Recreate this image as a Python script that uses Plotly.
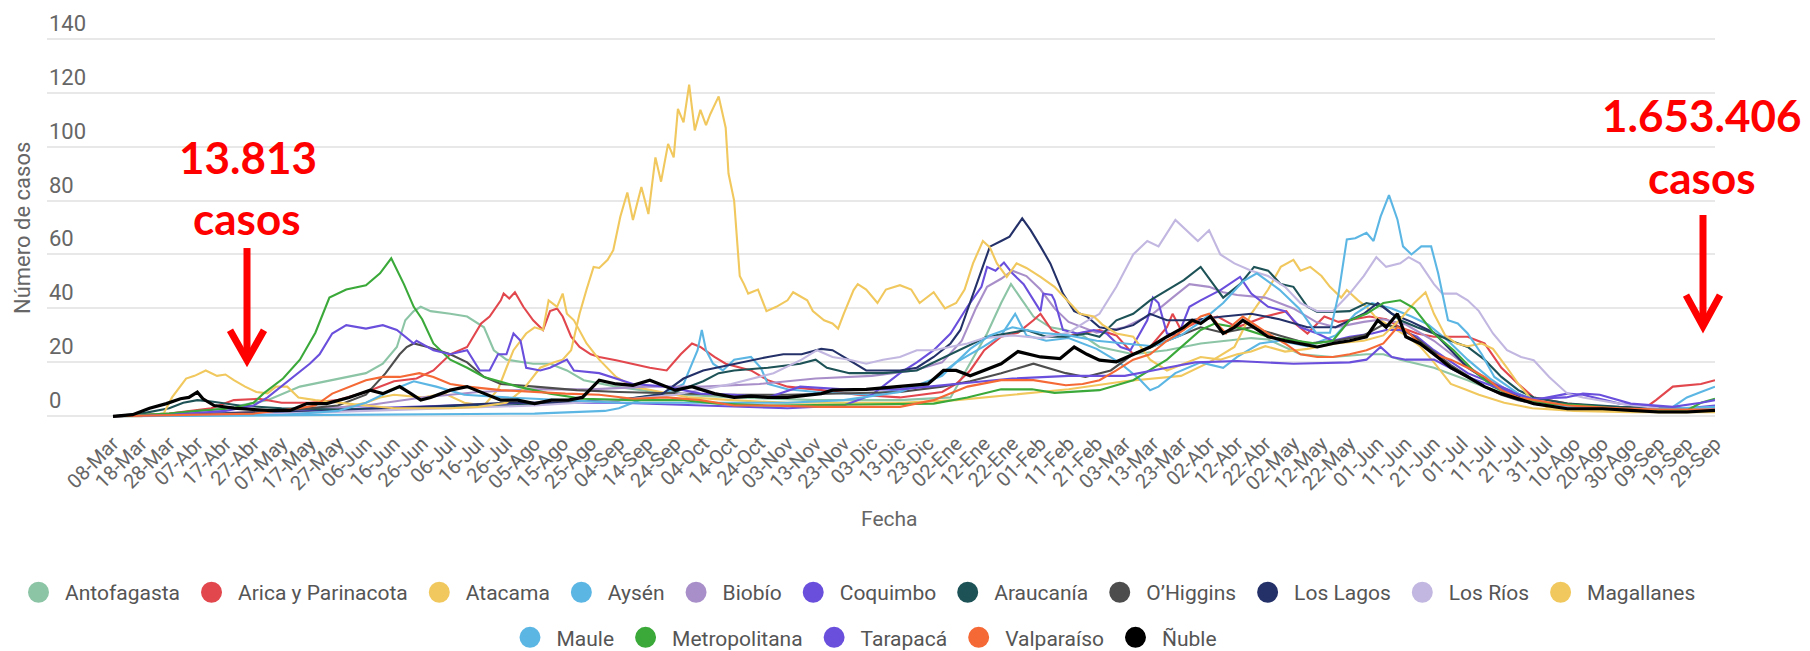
import pandas as pd
import plotly.graph_objects as go

START = pd.Timestamp("2020-03-08")
END = pd.Timestamp("2021-09-29")
MESES = ["Ene", "Feb", "Mar", "Abr", "May", "Jun", "Jul", "Ago", "Sep", "Oct", "Nov", "Dic"]

# (día desde 08-Mar-2020, valor)
ANTOFAGASTA = [(0,0),(20,1),(40,3),(55,6),(66.5,11),(78,13.4),(90,16),(96,19.5),(101,25.7),(104,35.6),(107,39),(109.5,40.6),(113,39),(120,38),(126,37),(132,33),(135.5,24.5),(140,21),(149.5,19.5),(155.5,19.5),(161.5,17),(167.5,13.4),(179,11),(197,8.4),(220,7),(250,6),(280,6),(298,7),(304,18),(311,30.7),(316,42),(319.5,49),(323.5,43),(327.5,37),(333.5,33),(339,32),(345,30),(351,25.7),(363,23),(375,24.5),(387,27),(395,28),(405,29),(411,28.5),(417,25.7),(422.5,23),(434,22),(446,23),(452,23),(458,21),(470,18),(482,13.4),(494,8.4),(505.5,4.7),(520,3),(540,2.5),(570,2.5)]
ARICA = [(0,0),(20,1),(35,3),(43,6),(52,6.5),(60,5),(70,5),(80,6),(90,9),(100,13),(108,14),(114,17),(120,23),(126,25.7),(131,34.4),(134,37),(138,43),(139,45.5),(141,43.7),(143,46),(146,40.6),(149.5,35.6),(153,32),(155.5,39),(158,40),(160,37),(163,29.5),(166,25.7),(170,23),(173,22),(179,20.8),(185,19.5),(191,18),(197,17),(202,23),(206,27),(209,25.7),(214,22),(218,19.5),(227,17),(233,13.4),(240,11),(252,9.7),(265,8),(280,7),(295,9),(300,12),(305,17),(310,24.5),(316,29.5),(322,31),(327.5,35.6),(330,38),(334,32),(339,29.5),(345,31),(351,32),(357,30),(363,23),(369,25.7),(375,33),(377,38),(380,32),(387,35.6),(393,37),(400,33),(410,37),(417.5,39),(421,34),(425,30.7),(431,37),(436,35),(442,36),(447,37),(453,36),(458,33),(464,30.7),(470,29.5),(476,29.5),(482,29.5),(488,27),(494,18),(500,12),(505.5,7),(517.5,4.7),(530,3.5),(545,3),(549,6),(555,11),(560,11.5),(565,12),(570,13.4)]
ATACAMA = [(0,0),(20,0.5),(40,1),(60,2),(80,3),(90,5),(95,7),(100,8),(110,7),(118,8.4),(125,5),(132,4),(137,10),(140,18),(142.5,24.5),(147,30.7),(150,33),(153,32),(155,43),(158,40.6),(160,45.5),(161.5,38),(164,35.6),(168.5,27),(173,21),(179,14.6),(185,11),(195,9),(205,7),(220,6),(240,5),(260,5),(280,5),(300,6),(320,8),(340,10),(360,13),(380,15),(390,20),(399,25.7),(405,38),(411,47),(415.5,55.4),(420,58),(422.5,54),(426,55.4),(430,52),(433,48),(437,44),(439,46.8),(443,43),(446,40.6),(449,37),(455,33),(460,30),(465,26),(470,20),(476,12),(481,10),(486,8),(495,5),(505,3),(520,2),(540,1.5),(570,1.5)]
AYSEN = [(0,0),(50,0.3),(100,0.5),(150,1),(175,2),(180,3),(187.5,6),(195,8),(203,12),(208,24.5),(209.5,32),(211,24.5),(213.5,19.5),(217,17),(221,21),(227,22),(230.5,18),(233,12),(240,10),(250,9),(270,8),(290,12),(300,20),(310,26),(316,30),(321,38),(325,30),(332,28),(340,29),(350,25),(358,20),(365,14),(369,9.7),(372,11),(378,16),(387,20),(395,18),(400,22),(408,27),(415,28),(425,26),(435,30),(442,38),(448,42),(455,40),(462,37),(468,34),(475,28),(482,21),(490,14),(497,9),(505,5),(520,3.5),(540,3),(555,3.5),(560,7),(565,9),(570,11)]
BIOBIO = [(0,0),(30,1),(60,2),(90,4),(110,7),(130,9),(150,10),(170,10),(190,11),(210,11),(230,12),(250,14),(270,15),(285,17),(295,20),(302,28),(307,40),(311,48),(316,51),(320,54),(325,52),(330,47),(335,40),(340,35),(350,31),(360,33),(370,38),(377,44),(383,49),(390,48),(395,46),(400,45),(410,44),(420,40),(428,35),(435,33),(445,35),(452,36),(460,34),(470,28),(480,20),(490,13),(500,8),(510,5),(525,4),(545,3),(570,3)]
COQUIMBO = [(0,0),(30,0.5),(60,1.5),(90,3),(120,4),(150,5),(180,5),(210,4),(240,3),(260,4),(270,8),(280,16),(286,20),(292,24.5),(298,30.7),(304,40.6),(309,48),(311,55.4),(314,54),(317,57),(320,53),(324,49),(327.5,43),(330,39),(331,45.5),(334,45),(335,43),(338,32),(343,30.7),(349,32),(353.5,30.7),(358.5,25.7),(362,24.5),(368,35.6),(370,44),(372,42),(375,30.7),(379,30),(383,40.6),(387,43),(394,46.8),(401,51.7),(405,45.5),(411,40.6),(417,39),(422.5,33),(428.5,30.7),(434,28),(440,29.5),(448,30.7),(453,32),(458,32),(464,29.5),(470,24.5),(482,16),(494,11),(505.5,6),(517.5,8.4),(523,8),(536,4.7),(550,3.5),(560,3),(570,4)]
ARAUCANIA = [(0,0),(10,1),(20,3),(25,5),(30,6),(35,5.5),(45,4),(60,3),(80,2.5),(100,3),(120,3.5),(140,4),(160,5),(180,6),(200,9),(210,13),(215.5,16),(221,17),(233,18),(244.5,19.5),(250,21),(254,18),(262,16),(274,16),(286,17),(294,21),(304,25.7),(311,29.5),(318,30.7),(325,32),(332,29.5),(339,29.5),(346.5,30.7),(351,29.5),(357,35.6),(363,38),(369,43),(375,46.8),(381,50.5),(387,55.4),(392,48),(395,44),(401,49),(406,55.4),(411,54),(415.5,49),(420,48),(425,40.6),(428.5,38.7),(434,38.7),(440,39),(446,42),(452,40.6),(458,35.6),(464,33),(470,30.7),(476,28),(482,25.7),(488,21),(494,14.6),(500,9.7),(505.5,7),(517.5,4.7),(536,3.5),(550,3),(570,3)]
OHIGGINS = [(0,0),(20,0.5),(40,1),(60,2),(80,4),(90,8),(97,16),(102,23),(104.5,25.7),(107,27),(112,25.7),(120,23),(126,20),(132,14.6),(138,12),(150,11),(165,9.7),(180,9),(200,8.5),(220,8),(240,8),(260,8.5),(280,9),(295,11),(305,13),(316,16),(327.5,19.5),(339,16),(346,14.6),(355,17),(363,23),(375,28),(387,33),(395,31),(405,33),(415,30),(425,27),(435,28),(445,30),(452,34),(458,33),(465,28),(470,24),(476,19),(482,15),(488,11),(494,8),(500,6),(510,4),(520,3),(540,2.5),(570,2.5)]
LOS_LAGOS = [(0,0),(20,0.5),(40,1),(60,1.5),(80,2),(100,3),(120,4),(140,5),(160,5),(180,6),(195,8),(203,14),(210,17),(221,19.5),(233,22),(238.5,23),(245,23),(252,25),(256,24.5),(260,22),(268,17),(280,17),(286,18),(292,22),(298,27),(301.5,32),(306,45.5),(310,56.7),(312,62.9),(316,65),(319,66.6),(323.5,73.4),(326.5,69),(330,63),(333.5,56.7),(338,45.5),(342,39),(346.5,37),(351,33),(357,32),(363,33.8),(369,38),(375,35.6),(381,35.6),(387,36),(395,37),(405,38),(415,36),(425,33),(435,33),(445,38),(450,42),(455,38),(462,35),(470,31),(482,18),(494,10),(505.5,4.7),(517.5,3),(530,2.5),(545,2),(560,2),(570,2.5)]
LOS_RIOS = [(0,0),(30,0.5),(60,1),(90,2),(120,3),(150,4),(180,6),(200,8),(220,12),(235,16),(245,21),(250.5,24.5),(256,22),(262,21),(268,19.5),(274,21),(280,22),(286,24.5),(292,24.5),(298,25.7),(304,27),(310,29),(320,30),(330,29),(340,31),(346,35),(351,38),(357,48),(363,60),(368,65),(372,63),(378,72.8),(382,69),(386,65),(390,69),(394,60),(399,56.7),(405,54),(411,52),(417,48),(422.5,42),(428.5,39),(434,39),(440,45.5),(445,52),(449.5,59),(453,55.4),(458,56.7),(461,59),(465,56.7),(470,49),(473,45.5),(478,45.5),(482,43),(486,39),(491,30.7),(496,24.5),(501,22),(505.5,20.8),(511,14.6),(517.5,8.4),(523,7),(536,4.7),(550,3),(560,2.5),(570,3)]
MAGALLANES = [(0,0),(10,0),(18,1),(21,7),(26,14),(29,15),(33,17),(37,15),(40,15.5),(43,13.4),(47,11),(51,9),(55,8.5),(58,11),(62,11),(66,7),(72,6),(80,5),(90,4),(100,3),(110,3),(120,3),(130,3.5),(140,5),(146,10),(152,18),(157,20),(160,21),(163,24.5),(166,38),(168.5,47),(171,55.4),(173,55),(176,58),(178,61.6),(180.5,74),(183,83),(185,72.8),(188,85),(190.5,75),(193,96),(195,87),(197.5,101),(199.5,96),(201,114),(203,109),(205,123),(207,106),(209,113.6),(211,108),(212.5,112),(215.5,118.6),(218,107),(219,90),(221,80),(223,52),(224.5,49),(226,45.5),(229.5,47),(232.5,39),(236,40.6),(240,43),(242,46),(247,43),(249,39),(253,35.6),(256,34.4),(258,32.5),(260,38),(263.5,46.8),(265,49),(268,47),(272,42),(275,47),(280,48.6),(284,47),(287,42),(292,46),(296,40),(300,42),(303,47),(306,56.7),(309.5,65),(312,62.6),(314.5,56.7),(318,51.7),(321.5,56.7),(325,55),(330,51.7),(335,48),(339.5,43),(344,38),(349,37),(352,34),(357,30.7),(363,29.5),(369,21),(375,17),(381,19.5),(387,22),(394,21),(400,23),(405,24),(410,26),(417,24),(425,25),(435,27),(445,28),(452,30),(458,36),(463,42),(467,46),(470,38),(474,30),(478,27),(482,26),(487,27),(491,25),(496,18),(500,12),(505,6),(510,3.5),(520,2.5),(530,2),(540,2),(550,1.5),(560,1.5),(570,2)]
MAULE = [(0,0),(30,0.3),(60,0.5),(80,2),(90,5),(100,10),(107,13),(115,11),(125,8),(140,7),(160,6),(180,5),(200,5),(220,5),(240,5),(260,6),(280,9),(295,15),(305,25),(312,30),(320,33),(330,31),(340,30),(350,28),(360,27),(370,26),(380,30),(387,35),(395,42),(402,50),(407,53),(415,47),(422,40),(428,31),(433,31),(436,45),(439,65.6),(442,66),(446,68),(448.5,65),(451,74),(454,82),(457,73),(459,63),(462,60),(465.5,63),(469,63),(471.5,53),(475,35.6),(478.5,34.4),(482,30.7),(487,23),(491.5,14.6),(500,8.4),(511,4),(525,3),(545,2.5),(560,3),(570,3.5)]
METROPOLITANA = [(0,0),(10,0.5),(20,1),(30,2),(43,3),(50,5),(53.5,8.4),(60.5,14),(66.5,21),(72,31),(77,44),(83,47),(90,48.6),(95,53),(99,58.6),(103.5,49),(107,40.6),(110,36),(114,27),(120,21),(126,18),(132,14.6),(144,11),(155.5,8.4),(167,6.5),(185,6),(203,6),(215,4.7),(233,4),(250,4.2),(270,4.5),(292,4.7),(304,7),(316,10),(327,10),(335,8.7),(351,9.7),(363,13.4),(375,21),(387,32),(392,34.4),(402,32.5),(411,29.5),(422,28),(428,27),(434,28),(440,35.6),(446,38),(452,42),(458,43),(463,40),(470,30.7),(477,24.5),(484,17),(491,11),(499,7),(511,4.7),(523,4),(536,2.8),(550,2.2),(560,2.2),(565,5),(570,6.5)]
TARAPACA = [(0,0),(20,0.5),(40,2),(50,4),(55,7),(64,14.6),(70,19.5),(73.5,23),(78,30.7),(83,33.8),(90,32.5),(96,33.8),(101,32),(107,27),(108,28),(114,24.5),(120,23),(126,24.5),(130.5,17),(134,17),(137,23),(140,23),(142.5,30.7),(145,28),(147,18),(152,17),(155.5,18),(161.5,21),(164,17),(173,16),(185,12),(197,11),(209,8.4),(221,8),(233,7),(244.5,11),(260,10),(280,10),(300,12),(320,14),(340,15),(360,15),(375,18),(385,20),(400,20.5),(420,19.5),(440,20),(446,21),(451,25.7),(455,22),(460,21),(470,21),(482,14.6),(494,10),(505,6.5),(517,7),(523,8.4),(529,8),(540,4.7),(555,3.5),(565,5),(570,6)]
VALPARAISO = [(0,0),(30,0.5),(50,1),(66,3),(72,4),(78,8.4),(90,13.4),(96,14.6),(102,14.6),(109,16),(114,14.6),(120,12),(126,11),(138,9.7),(150,9),(161,8.4),(173,8),(185,6.5),(197,7),(209,6),(221,4),(233,4),(252,3.5),(280,3.5),(292,6),(304,11),(316,13.4),(327.5,13.4),(339,11.5),(345,12),(351,13.4),(357,17),(363,21),(369,23),(375,28),(381,32),(387,37),(390,38),(394,33),(396,30.7),(399,34.4),(402,37),(411,30.7),(417,27),(422.5,23),(428.5,22),(434,22),(440,23),(446,24.5),(452,27),(457,33),(460,32),(465,27),(470,23),(476,21),(482,18),(488,14.6),(494,9.7),(500,7),(505.5,6),(517.5,4),(536,3),(550,2.5),(570,2.5)]
NUBLE = [(0,0),(7,0.6),(13,3),(19,4.7),(24,6.5),(27,7),(30,9),(32,6.5),(36,4),(43,3),(55,2.2),(63,2.2),(69,4.7),(76,4.7),(84,7),(91.5,9.7),(96,8.4),(102,11),(106,8.4),(109.5,6),(113,7),(120,9.7),(126,11),(132,8.4),(138,6),(144,6),(150,4.7),(156,6),(162,6),(167,7),(173,13.4),(179,12),(185,11.5),(191,13.4),(197,11),(200,9.7),(206,11),(214,8.4),(221,7),(227,7.5),(233,7),(240,7),(252,8.4),(256,9.7),(268,10),(280,11),(290,12),(295.5,17),(300,17),(305,15),(310,17),(316,19.5),(322,24),(326,23),(330,22),(337,21.4),(342,25.7),(346.5,23),(351,20.8),(357,20.2),(363,23),(369,25.7),(375,29.5),(381,33),(384,35.6),(387,34.4),(390.5,37),(395,30.7),(399,33),(402,35.6),(406,33),(411,29.5),(417,28),(422.5,27),(428.5,25.7),(434,27),(440,28),(446,29.5),(450,35.6),(453,33),(457,38),(460,29.5),(465,27),(470,23),(476,18),(482,14.6),(488,11),(494,8.4),(500,6.5),(505.5,4.7),(517.5,2.8),(530,2.8),(540,2.2),(550,1.6),(560,1.6),(570,2.2)]

NAMES = ["Antofagasta", "Arica y Parinacota", "Atacama", "Aysén", "Biobío", "Coquimbo",
         "Araucanía", "O’Higgins", "Los Lagos", "Los Ríos", "Magallanes",
         "Maule", "Metropolitana", "Tarapacá", "Valparaíso", "Ñuble"]
DATA = [ANTOFAGASTA, ARICA, ATACAMA, AYSEN, BIOBIO, COQUIMBO, ARAUCANIA, OHIGGINS,
        LOS_LAGOS, LOS_RIOS, MAGALLANES, MAULE, METROPOLITANA, TARAPACA, VALPARAISO, NUBLE]
COLORS = ["#8cc4a6", "#e1474d", "#f0c85e", "#5cb6e4", "#a98fc9", "#6a4fdc",
          "#1d5257", "#4d4d4d", "#243169", "#c2b7e0", "#f0c85e",
          "#5cb6e4", "#3aa93a", "#6a4fdc", "#f46935", "#000000"]

Y_TICKS = [0, 20, 40, 60, 80, 100, 120, 140]
Y_RANGE = [-1, 141]

W, H = 1810, 651
PX_PER_UNIT = (416 - 39) / 140.0
ML, MR = 47, 95
MT = 39 - (Y_RANGE[1] - 140) * PX_PER_UNIT
MB = H - (416 + (0 - Y_RANGE[0]) * PX_PER_UNIT)
PW, PH = W - ML - MR, H - MT - MB


def pxx(x):
    return (x - ML) / PW


def pxy(y):
    return (H - MB - y) / PH


fig = go.Figure()
for name, data, color in zip(NAMES, DATA, COLORS):
    xs = [START + pd.Timedelta(days=d) for d, _ in data]
    ys = [v for _, v in data]
    fig.add_trace(go.Scatter(
        x=xs, y=ys, mode="lines", name=name, legendgroup=name, showlegend=False,
        line=dict(color=color, width=3.2 if name == "Ñuble" else 2.1),
        hoverinfo="skip"))

for i, (name, color) in enumerate(zip(NAMES, COLORS)):
    fig.add_trace(go.Scatter(
        x=[None], y=[None], mode="markers", name=name, legendgroup=name,
        legend="legend" if i < 11 else "legend2",
        marker=dict(size=16, color=color, line=dict(color=color, width=5))))

tick_dates = pd.date_range(START, END, freq="10D")
tick_text = [f"{d.day:02d}-{MESES[d.month - 1]}" for d in tick_dates]
days_per_px = (END - START).days / (1715 - 113)
x_start = START - pd.Timedelta(days=(113 - ML) * days_per_px)

fig.update_layout(
    width=W, height=H,
    margin=dict(l=ML, r=MR, t=MT, b=MB, autoexpand=False),
    paper_bgcolor="white", plot_bgcolor="white",
    font=dict(family="Roboto, Arial, sans-serif", color="#666"),
    xaxis=dict(
        type="date", range=[x_start, END],
        tickmode="array", tickvals=list(tick_dates), ticktext=tick_text,
        tickangle=-45, tickfont=dict(size=20, color="#666"),
        showgrid=False, zeroline=False, showline=False, ticks="",
        ticklabelstandoff=8, automargin=False),
    yaxis=dict(
        range=Y_RANGE, tickmode="array", tickvals=Y_TICKS, showticklabels=False,
        showgrid=True, gridcolor="#e8e8e8", gridwidth=2,
        zeroline=False, showline=False, ticks="", automargin=False),
    legend=dict(orientation="h", x=pxx(12), xanchor="left", y=pxy(592), yanchor="middle",
                font=dict(size=21, color="#555"), itemwidth=43, bgcolor="rgba(0,0,0,0)"),
    legend2=dict(orientation="h", x=pxx(863), xanchor="center", y=pxy(637), yanchor="middle",
                 font=dict(size=21, color="#555"), itemwidth=43, bgcolor="rgba(0,0,0,0)"),
    showlegend=True,
)

for v in Y_TICKS:
    fig.add_annotation(xref="paper", yref="y", x=0, y=v, text=str(v), showarrow=False,
                       xanchor="left", yanchor="bottom", yshift=1,
                       font=dict(size=22, color="#666"))

RED = "#ff0000"
big = dict(family="Lato, Liberation Sans, sans-serif", size=44, color=RED)
anns = [
    dict(text="Fecha", x=pxx(889), y=pxy(519), font=dict(size=21, color="#666")),
    dict(text="Número de casos", x=pxx(22), y=pxy(228), textangle=-90, font=dict(size=22, color="#666")),
    dict(text="<b>13.813</b>", x=pxx(248), y=pxy(157), font=big),
    dict(text="<b>casos</b>", x=pxx(247), y=pxy(218), font=big),
    dict(text="<b>1.653.406</b>", x=pxx(1702), y=pxy(115), font=big),
    dict(text="<b>casos</b>", x=pxx(1702), y=pxy(177), font=big),
]
for a in anns:
    fig.add_annotation(xref="paper", yref="paper", showarrow=False,
                       xanchor="center", yanchor="middle", **a)


def arrow(xc, y_top, y_tip, half_w, head_h):
    fig.add_shape(type="line", xref="paper", yref="paper",
                  x0=pxx(xc), x1=pxx(xc), y0=pxy(y_top), y1=pxy(y_tip - 3),
                  line=dict(color=RED, width=7))
    path = (f"M{pxx(xc - half_w)},{pxy(y_tip - head_h)} L{pxx(xc)},{pxy(y_tip)} "
            f"L{pxx(xc + half_w)},{pxy(y_tip - head_h)}")
    fig.add_shape(type="path", xref="paper", yref="paper", path=path,
                  line=dict(color=RED, width=7))


arrow(247, 248, 360, 17, 30)
arrow(1703, 215, 326, 17, 31)

fig.write_html("out.html", config={"displayModeBar": False},
               post_script="document.body.style.margin='0';document.body.style.overflow='hidden';")
